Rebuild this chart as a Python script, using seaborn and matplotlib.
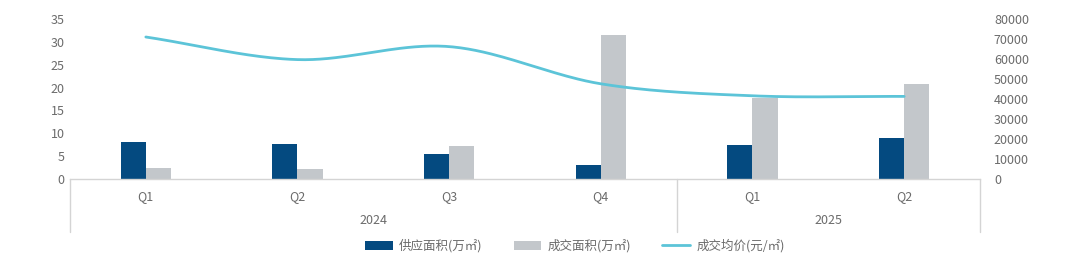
import numpy as np
import pandas as pd
import matplotlib
matplotlib.use("Agg")
import matplotlib.pyplot as plt
from matplotlib.patches import Patch
from matplotlib.lines import Line2D
import matplotlib.transforms as mtransforms
import seaborn as sns

# ---- data ----
quarters = ["Q1", "Q2", "Q3", "Q4", "Q1", "Q2"]
years = ["2024", "2024", "2024", "2024", "2025", "2025"]
supply = [8.1, 7.7, 5.4, 3.0, 7.4, 9.0]          # 供应面积(万㎡)
deal = [2.5, 2.1, 7.2, 31.5, 17.7, 20.8]          # 成交面积(万㎡)
price = [71000, 59700, 66200, 47600, 41600, 41300]  # 成交均价(元/㎡)
series_names = ["供应面积(万㎡)", "成交面积(万㎡)", "成交均价(元/㎡)"]
left_ticks = [0, 5, 10, 15, 20, 25, 30, 35]
right_ticks = [0, 10000, 20000, 30000, 40000, 50000, 60000, 70000, 80000]

# ---- style ----
sns.set_theme(style="white")
plt.rcParams['font.family'] = ['Noto Sans CJK SC', 'DejaVu Sans']
TXT = "#6b6b6b"
DARK = "#044a80"
GRAY = "#c3c7cb"
LINE = "#5cc4d8"
AX = "#d4d4d4"

W, H = 1080, 262
fig = plt.figure(figsize=(W / 100, H / 100), dpi=100)
L, R, B, T = 70, 980, 179, 19
ax = fig.add_axes([L / W, 1 - B / H, (R - L) / W, (B - T) / H])

keys = [f"{y}{q}" for y, q in zip(years, quarters)]
df = pd.DataFrame({
    "key": keys * 2,
    "value": supply + deal,
    "series": [series_names[0]] * 6 + [series_names[1]] * 6,
})
sns.barplot(data=df, x="key", y="value", hue="series", order=keys,
            palette=[DARK, GRAY], width=0.33, dodge=True, ax=ax,
            legend=False, saturation=1)
for p in ax.patches:
    p.set_edgecolor("none")

ax.set_xlim(-0.5, len(keys) - 0.5)
ax.set_ylim(0, 35)
ax.set_yticks(left_ticks)
ax.set_yticklabels([str(t) for t in left_ticks], color=TXT, fontsize=9)
ax.set_xticks(range(len(keys)))
ax.set_xticklabels(quarters, color=TXT, fontsize=9)
ax.tick_params(axis="both", length=0, pad=4)
ax.tick_params(axis="x", pad=8)
ax.set_xlabel("")
ax.set_ylabel("")
for s in ["top", "right", "left"]:
    ax.spines[s].set_visible(False)
ax.spines["bottom"].set_color(AX)
ax.spines["bottom"].set_linewidth(1)
ax.set_facecolor("none")

# secondary axis with smoothed line
ax2 = ax.twinx()
xs_pts = np.arange(len(price), dtype=float)
ys_pts = np.array(price, dtype=float)
P = np.concatenate([[2 * ys_pts[0] - ys_pts[1]], ys_pts, [2 * ys_pts[-1] - ys_pts[-2]]])
sx, sy = [], []
for i in range(len(ys_pts) - 1):
    p0, p1, p2, p3 = P[i], P[i + 1], P[i + 2], P[i + 3]
    t = np.linspace(0, 1, 40, endpoint=(i == len(ys_pts) - 2))
    yy = 0.5 * ((2 * p1) + (-p0 + p2) * t + (2 * p0 - 5 * p1 + 4 * p2 - p3) * t ** 2
                + (-p0 + 3 * p1 - 3 * p2 + p3) * t ** 3)
    sx.extend(xs_pts[i] + t)
    sy.extend(yy)
sns.lineplot(x=np.array(sx), y=np.array(sy), ax=ax2, color=LINE, linewidth=2.0,
             sort=False, estimator=None)
ax2.set_ylim(0, 80000)
ax2.set_yticks(right_ticks)
ax2.set_yticklabels([str(t) for t in right_ticks], color=TXT, fontsize=9)
ax2.tick_params(axis="y", length=0, pad=10)
ax2.set_ylabel("")
for s in ["top", "right", "left", "bottom"]:
    ax2.spines[s].set_visible(False)

# group separators and year labels
trans = mtransforms.blended_transform_factory(ax.transData, ax.transAxes)
ybot = -(232 - 179) / (B - T)
groups = []
for i, y in enumerate(years):
    if not groups or groups[-1][0] != y:
        groups.append([y, i, i])
    else:
        groups[-1][2] = i
edges = [-0.5] + [g[2] + 0.5 for g in groups]
for e in edges:
    ax.plot([e, e], [0, ybot], transform=trans, color=AX, lw=1, clip_on=False)
for y, a, b in groups:
    ax.text((a + b) / 2, -(220 - 179) / (B - T), y, transform=trans,
            ha="center", va="center", color=TXT, fontsize=9)

# legend
handles = [Patch(facecolor=DARK, edgecolor="none"),
           Patch(facecolor=GRAY, edgecolor="none"),
           Line2D([0], [0], color=LINE, lw=2.0)]
fig.legend(handles, series_names, loc="center", ncol=3,
           bbox_to_anchor=(575 / W, 1 - 246 / H), frameon=False,
           fontsize=9, labelcolor=TXT, handlelength=2.2, handleheight=0.8,
           columnspacing=2.5, handletextpad=0.5)

fig.savefig("out.png", dpi=100, facecolor="white")
